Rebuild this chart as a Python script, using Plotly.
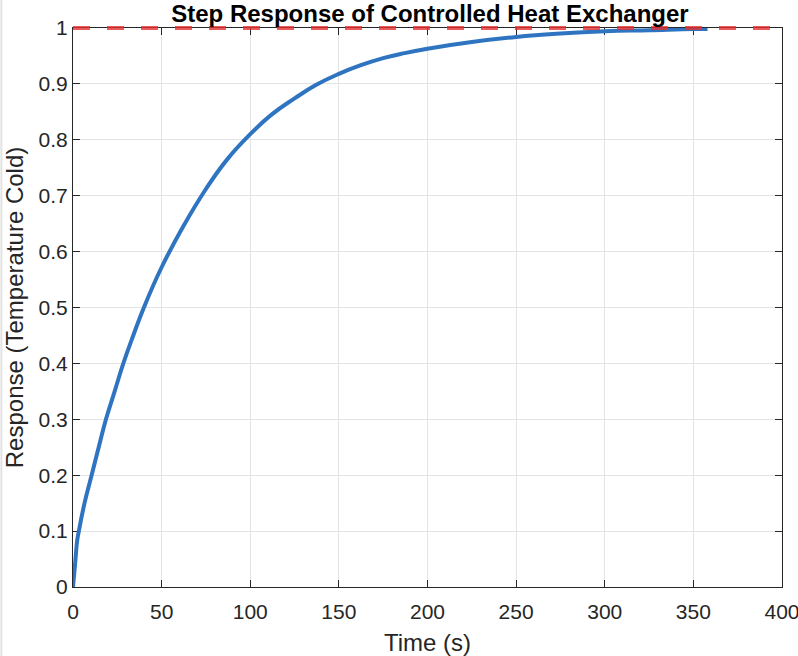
import plotly.graph_objects as go

# Step response
time_s = [0, 1.2, 2.4, 3.3, 6.5, 10.5, 14.5, 18.6, 23.5, 28.4, 34, 40, 50, 62,
          75, 87, 100, 112, 125, 137, 150, 162, 175, 187, 200, 225, 250, 275,
          300, 325, 350, 358]
response = [0, 0.042, 0.084, 0.10, 0.15, 0.20, 0.25, 0.30, 0.35, 0.40, 0.45, 0.50,
            0.572, 0.644, 0.712, 0.765, 0.810, 0.845, 0.874, 0.898, 0.918, 0.933,
            0.946, 0.955, 0.963, 0.975, 0.984, 0.990, 0.994, 0.996, 0.998, 0.998]

# Setpoint (reference level)
ref_time = [0, 400]
ref_level = [1, 1]

x_ticks = [0, 50, 100, 150, 200, 250, 300, 350, 400]
y_ticks = [0, 0.1, 0.2, 0.3, 0.4, 0.5, 0.6, 0.7, 0.8, 0.9, 1]
y_labels = ["0", "0.1", "0.2", "0.3", "0.4", "0.5", "0.6", "0.7", "0.8", "0.9", "1"]

font_name = "Liberation Sans, Arial, sans-serif"
ink = "#262626"

fig = go.Figure()

fig.add_trace(go.Scatter(
    x=time_s, y=response,
    mode="lines",
    line=dict(color="#2e74c0", width=4, shape="spline", smoothing=1.3),
    showlegend=False,
))

axis_style = dict(
    showline=True, linecolor=ink, linewidth=1, mirror="ticks",
    ticks="inside", ticklen=7, tickcolor=ink, tickwidth=1,
    showgrid=True, gridcolor="#e3e3e3", gridwidth=1,
    zeroline=False, layer="below traces", automargin=False,
    tickfont=dict(family=font_name, size=21, color=ink),
    ticklabeloverflow="allow",
)

fig.update_xaxes(
    range=[0, 400], tickvals=x_ticks, ticklabelstandoff=6,
    title=dict(text="Time (s)", font=dict(family=font_name, size=24, color=ink), standoff=16),
    **axis_style,
)
fig.update_yaxes(
    range=[0, 1], tickvals=y_ticks, ticktext=y_labels,
    title=dict(text="Response (Temperature Cold)", font=dict(family=font_name, size=24, color=ink), standoff=8),
    **axis_style,
)

# the setpoint line sits on the top axis edge, so draw it as an unclipped shape
fig.add_shape(
    type="line", xref="x", yref="y domain",
    x0=ref_time[0], x1=ref_time[1], y0=ref_level[0], y1=ref_level[1],
    line=dict(color="rgba(228,50,50,0.8)", width=4, dash="17px,17px"),
    layer="above",
)

# faint frame edge on the far left of the window
fig.add_shape(
    type="line", xref="paper", yref="paper",
    x0=-0.101, x1=-0.101, y0=-0.2, y1=1.1,
    line=dict(color="#e2e2e2", width=2),
)

fig.update_layout(
    width=798, height=656,
    margin=dict(l=73, r=16, t=28, b=69),
    paper_bgcolor="white", plot_bgcolor="white",
    title=dict(
        text="<b>Step Response of Controlled Heat Exchanger</b>",
        font=dict(family=font_name, size=24, color="black"),
        x=0.5388, xanchor="center", xref="container",
        y=0.979, yanchor="middle", yref="container",
    ),
)

fig.write_html("out.html", config={"displayModeBar": False},
               post_script="document.body.style.margin='0';")
